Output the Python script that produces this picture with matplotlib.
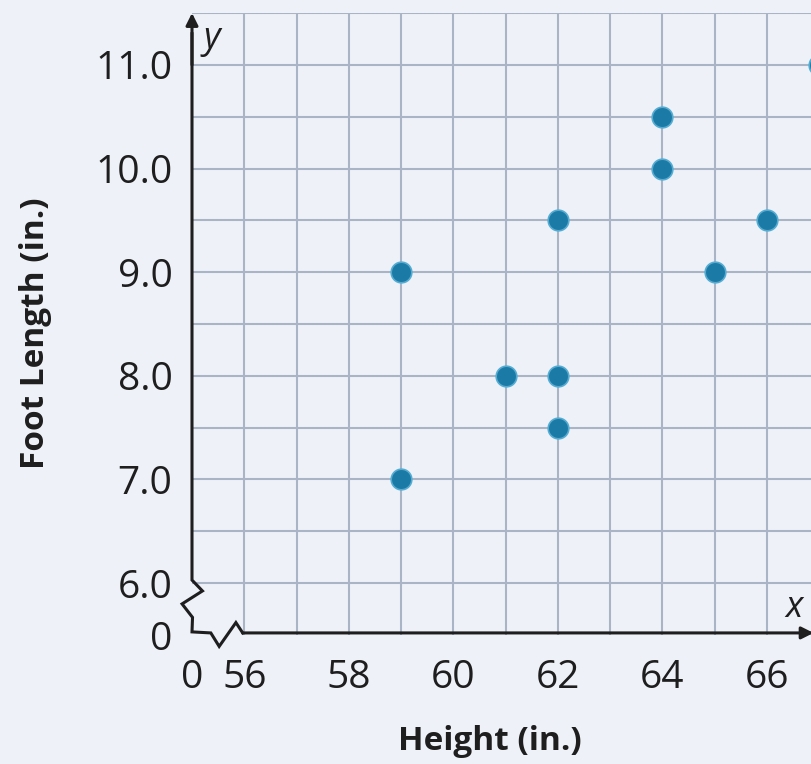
import matplotlib
matplotlib.use('Agg')
import matplotlib.pyplot as plt
import numpy as np

# Data: height (in.) vs foot length (in.)
height = [59, 59, 61, 62, 62, 62, 64, 64, 65, 66, 67]
foot_length = [9.0, 7.0, 8.0, 9.5, 8.0, 7.5, 10.5, 10.0, 9.0, 9.5, 11.0]

x_ticks = [55, 56, 58, 60, 62, 64, 66]
x_ticklabels = ['0', '56', '58', '60', '62', '64', '66']
y_ticks = [5.5, 6.0, 7.0, 8.0, 9.0, 10.0, 11.0]
y_ticklabels = ['0', '6.0', '7.0', '8.0', '9.0', '10.0', '11.0']

bg = '#eef1f8'
gridcol = '#a9b5c7'
dotcol = '#1c7ba6'
ink = '#1e1e1e'

plt.rcParams['font.family'] = ['Open Sans', 'DejaVu Sans']

fig = plt.figure(figsize=(8.11, 7.64), dpi=100, facecolor=bg)
ax = fig.add_axes([192/811, 129/764, 1 - 192/811, (751 - 129)/764])
ax.set_facecolor(bg)

xmin, xmax = 55, 55 + (811 - 192.8)/52.2
ymin, ymax = 5.5, 11.5
ax.set_xlim(xmin, xmax)
ax.set_ylim(ymin, ymax)

# grid: every inch across, every half inch up
for gx in np.arange(56, 68, 1):
    ax.axvline(gx, color=gridcol, lw=1.5, zorder=1)
for gy in np.arange(6.0, 11.51, 0.5):
    ax.axhline(gy, color=gridcol, lw=1.5, zorder=1)

for s in ax.spines.values():
    s.set_visible(False)

ax.set_xticks(x_ticks)
ax.set_xticklabels(x_ticklabels)
ax.set_yticks(y_ticks)
ax.set_yticklabels(y_ticklabels)
ax.tick_params(length=0, labelsize=28, colors=ink)
ax.tick_params(axis='x', pad=17)
ax.tick_params(axis='y', pad=14)

# axes with break symbols
yb_x = [55, 55, 55.20, 54.81, 55.01, 55.0, 55.36, 55.52, 55.84, 55.97]
yb_y = [11.3, 6.03, 5.925, 5.80, 5.67, 5.53, 5.52, 5.39, 5.62, 5.52]
ax.plot(yb_x, yb_y, color=ink, lw=2.2, clip_on=False, zorder=3,
        solid_joinstyle='miter')
ax.annotate('', xy=(55, 11.5), xytext=(55, 11.0),
            arrowprops=dict(arrowstyle='-|>', color=ink, lw=2.2,
                            mutation_scale=18, shrinkA=0, shrinkB=0),
            annotation_clip=False, zorder=3)
ax.annotate('', xy=(xmax + 0.05, 5.52), xytext=(55.97, 5.52),
            arrowprops=dict(arrowstyle='-|>', color=ink, lw=2.2,
                            mutation_scale=18, shrinkA=0, shrinkB=0),
            annotation_clip=False, zorder=3)

ax.scatter(height, foot_length, s=220, color=dotcol, edgecolors='#55acd2',
           linewidths=1.2, zorder=5, clip_on=False)

ax.text(55.22, 11.25, 'y', fontsize=26, style='italic', color=ink,
        ha='left', va='center')
ax.text(xmax - 0.33, 5.76, 'x', fontsize=26, style='italic', color=ink,
        ha='center', va='center')

fig.text(490/811, 1 - 741/764, 'Height (in.)', fontsize=24, fontweight='bold',
         ha='center', va='center', color=ink)
fig.text(36/811, 1 - 333/764, 'Foot Length (in.)', fontsize=24,
         fontweight='bold', rotation=90, ha='center', va='center',
         color=ink)

fig.savefig('out.png', dpi=100, facecolor=bg)
